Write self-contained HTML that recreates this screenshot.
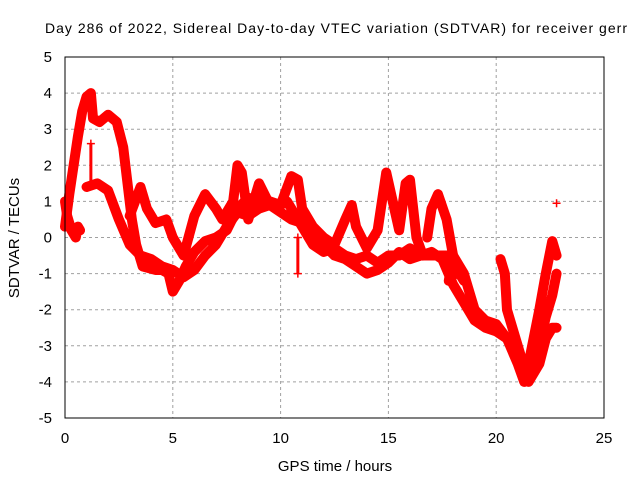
<!DOCTYPE html>
<html><head><meta charset="utf-8"><style>
body{margin:0;background:#fff;font-family:"Liberation Sans",sans-serif}
svg text{font-family:"Liberation Sans",sans-serif;font-size:15px;fill:#000}
</style></head><body>
<svg id="chart" width="640" height="480">
<text x="45" y="33" style="font-size:14px" textLength="582" lengthAdjust="spacing">Day 286 of 2022, Sidereal Day-to-day VTEC variation (SDTVAR) for receiver gerr</text>
<g id="grid"></g>
<g id="ticks"></g>
<g id="marks"></g>
<rect x="65" y="57" width="539" height="361" fill="none" stroke="#000" stroke-width="1"/>
<text x="335" y="471" text-anchor="middle">GPS time / hours</text>
<text transform="translate(19,238) rotate(-90)" text-anchor="middle">SDTVAR / TECUs</text>
</svg>
<script>
const xTicks=[0,5,10,15,20,25];
const yTicks=[-5,-4,-3,-2,-1,0,1,2,3,4,5];
const traceA=[[0,0.3],[0.2,1.2],[0.4,2],[0.6,2.8],[0.8,3.5],[1.0,3.9],[1.2,4.0],[1.3,3.3],[1.6,3.2],[2.0,3.4],[2.4,3.2],[2.7,2.5],[2.9,1.5],[3.1,0.5],[3.3,-0.2],[3.6,-0.8],[4.2,-0.9],[4.5,-0.9],[4.8,-1.0],[5.0,-1.5],[5.3,-1.2],[5.6,-0.8],[6.0,-0.4],[6.5,-0.1],[7.0,0.0],[7.5,0.2],[8.0,0.8],[8.5,1.1],[9,1.0],[9.5,1.0],[10,0.9],[10.3,1.0],[10.7,0.6],[11,0.3],[11.5,-0.2],[12,-0.4],[12.5,-0.3],[13,-0.5],[13.5,-0.6],[14,-0.5],[14.5,-0.7],[15,-0.5],[15.5,-0.5],[16,-0.3],[16.5,-0.5],[17,-0.4],[17.5,-0.6],[18,-1.3],[18.5,-1.8],[19,-2.3],[19.5,-2.5],[20,-2.6],[20.5,-2.8],[21,-3.5],[21.3,-4.0],[21.6,-3.8],[22,-3.0],[22.3,-2.2],[22.6,-1.6],[22.8,-1.0]];
const traceB=[[1.0,1.4],[1.5,1.5],[2.0,1.3],[2.5,0.5],[3.0,-0.2],[3.5,-0.5],[4.0,-0.6],[4.5,-0.8],[5.0,-0.9],[5.5,-1.1],[6,-0.9],[6.5,-0.5],[7,-0.2],[7.5,0.3],[8,0.7],[8.5,0.6],[9,0.8],[9.5,0.9],[10,0.7],[10.5,0.5],[11,0.4],[11.5,0.0],[12,-0.2],[12.5,-0.5],[13,-0.6],[13.5,-0.8],[14,-1.0],[14.5,-0.9],[15,-0.7],[15.5,-0.4],[16,-0.6],[16.5,-0.5],[17,-0.5],[17.5,-0.5],[18,-0.5],[18.5,-1.0],[19,-2.0],[19.5,-2.3],[20,-2.4],[20.5,-2.8],[21,-3.3],[21.5,-4.0],[22,-3.5],[22.3,-2.8],[22.6,-2.5],[22.8,-2.5]];
const traceC=[[0,1.0],[0.1,0.6],[0.3,0.2],[0.5,0.0],[0.6,0.3],[0.7,0.2]];
const traceD=[[3.0,0.6],[3.5,1.4],[3.8,0.8],[4.2,0.4],[4.7,0.5],[5,0],[5.5,-0.5],[6,0.6],[6.5,1.2],[7,0.8],[7.3,0.5],[7.8,1.0],[8,2.0],[8.2,1.8],[8.5,0.5],[9,1.5],[9.5,0.9],[10,0.9],[10.5,1.7],[10.8,1.6],[11,0.8],[11.5,0.3],[12,0.0],[12.5,-0.2],[13,0.5],[13.3,0.9],[13.5,0.3],[14,-0.3],[14.5,0.2],[14.9,1.8],[15.2,1.0],[15.5,0.2],[15.8,1.5],[16,1.6],[16.3,0],[16.6,-0.5]];
const traceE=[[16.8,0.0],[17.0,0.8],[17.3,1.2],[17.7,0.5],[18,-0.5],[17.8,-1.2],[18.2,-0.9],[18.5,-1.2]];
const traceF=[[20.2,-0.6],[20.4,-1.0],[20.5,-2.0],[21.0,-3.0],[21.3,-3.6]];
const traceG=[[21.5,-3.5],[22,-2],[22.3,-1],[22.6,-0.1],[22.8,-0.5]];
const traceH=[[10.8,-1.0],[10.8,0.0]];
const traceI=[[1.2,1.5],[1.2,2.6]];
const spikes=[[22.8,0.95]];
const traces=[traceA,traceB,traceC,traceD,traceE,traceF,traceG];
const thinTraces=[traceH,traceI];
const X=h=>65+h*21.56, Y=v=>237.5-v*36.1;
const NS="http://www.w3.org/2000/svg";
const grid=document.getElementById('grid'),ticks=document.getElementById('ticks'),marks=document.getElementById('marks');
function mk(t,a,p){const e=document.createElementNS(NS,t);for(const k in a)e.setAttribute(k,a[k]);p.appendChild(e);return e;}
xTicks.forEach(t=>{
 if(t>0&&t<25){const l=mk('line',{x1:X(t),x2:X(t),y1:57,y2:418,stroke:'#a0a0a0','stroke-dasharray':'3,3'},grid);
 
 }
 const tx=mk('text',{x:X(t),y:443,'text-anchor':'middle'},ticks);tx.textContent=t;
 
 
});
yTicks.forEach(t=>{
 if(t>-5&&t<5){const l=mk('line',{x1:65,x2:604,y1:Y(t),y2:Y(t),stroke:'#a0a0a0','stroke-dasharray':'3,3'},grid);
 
 }
 const tx=mk('text',{x:52,y:Y(t)+5,'text-anchor':'end'},ticks);tx.textContent=t;
 
 
});
function plus(h,v,name){
 const g=mk('path',{d:`M${X(h)-4},${Y(v)}h8M${X(h)},${Y(v)-4}v8`,stroke:'#f00','stroke-width':1.5},marks);
 
 
}
traces.forEach((tr,i)=>{
 const pl=mk('polyline',{points:tr.map(p=>X(p[0])+','+Y(p[1])).join(' '),fill:'none',stroke:'#f00','stroke-width':10,'stroke-linejoin':'round','stroke-linecap':'round'},marks);
 
 
 tr.forEach(p=>plus(p[0],p[1],'data-point'));
});
thinTraces.forEach((tr,i)=>{
 const pl=mk('polyline',{points:tr.map(p=>X(p[0])+','+Y(p[1])).join(' '),fill:'none',stroke:'#f00','stroke-width':3},marks);
 
 
 tr.forEach(p=>plus(p[0],p[1],'spike-point'));
});
spikes.forEach(p=>plus(p[0],p[1],'outlier-point'));
</script>
</body></html>
